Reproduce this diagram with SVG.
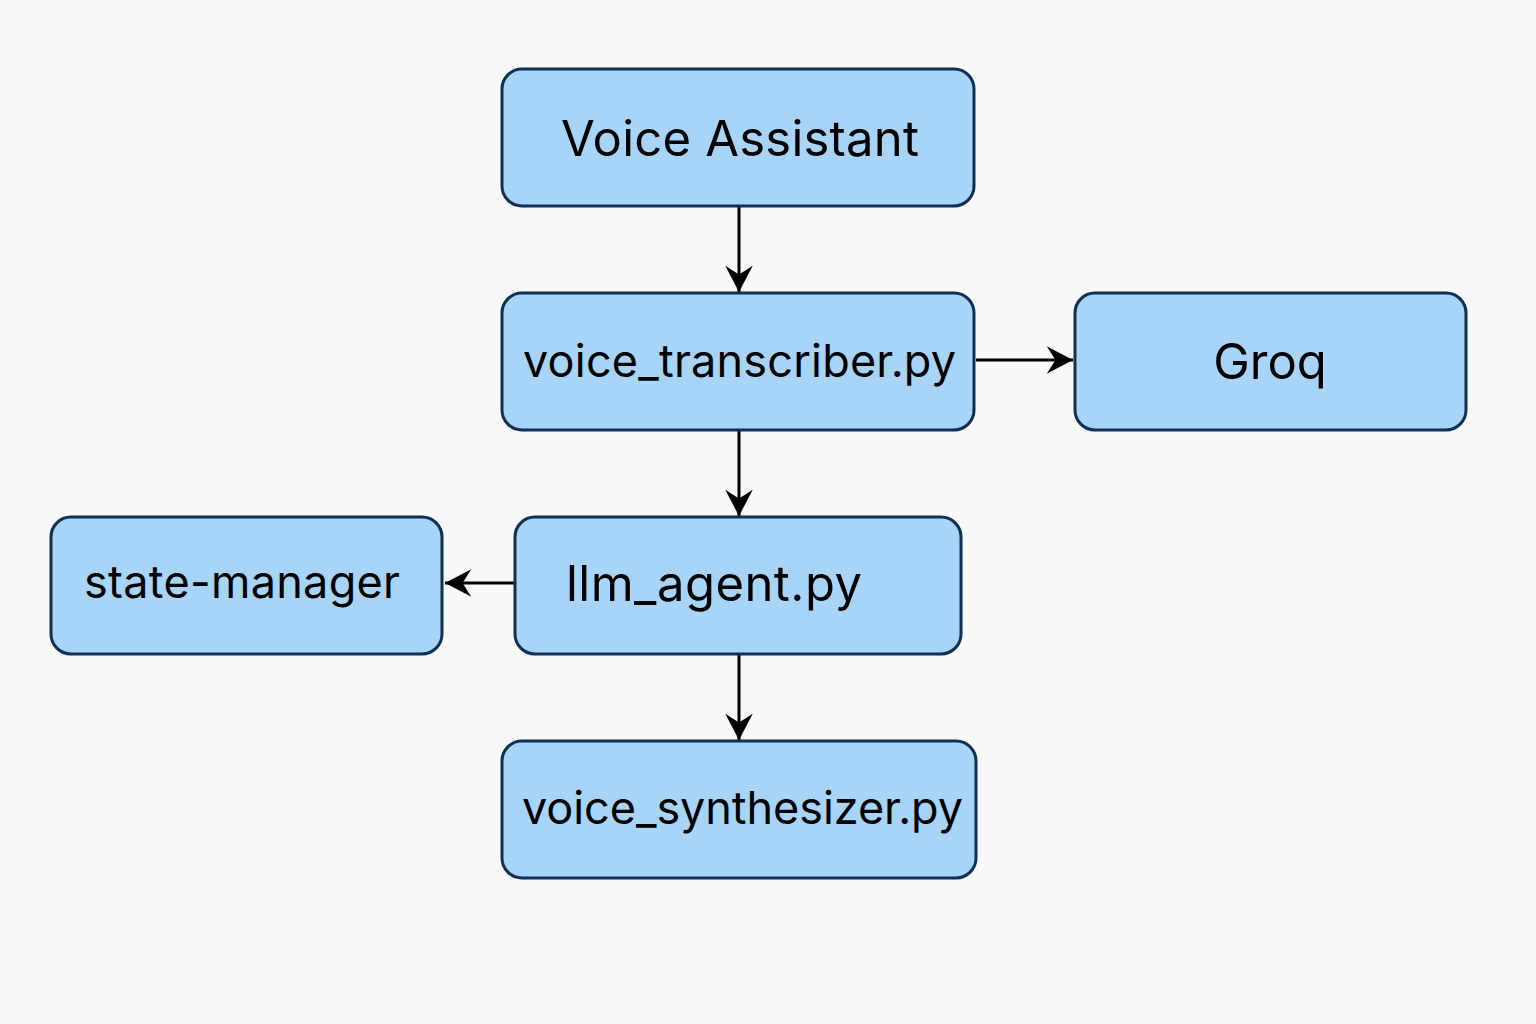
<svg xmlns="http://www.w3.org/2000/svg" width="1536" height="1024" viewBox="0 0 1536 1024">
<style>
.box{fill:#a8d4f8;stroke:#0f2f55;stroke-width:3}
.lbl{font-family:Inter,"Noto Sans","DejaVu Sans",sans-serif;fill:#000}
.con{stroke:#000;stroke-width:3;fill:none}
</style>
<defs>
<marker id="ah" markerUnits="userSpaceOnUse" markerWidth="30" markerHeight="30" viewBox="-22 -12 24 24" refX="0" refY="0" orient="auto">
<path d="M0,0 L-21,-11 L-14,0 L-21,11 Z" fill="#000"/>
</marker>
</defs>
<rect width="1536" height="1024" fill="#f8f8f8"/>
<g id="connectors">
<line class="con" x1="739" y1="207" x2="739" y2="292" marker-end="url(#ah)"/>
<line class="con" x1="976" y1="360" x2="1073" y2="360" marker-end="url(#ah)"/>
<line class="con" x1="739" y1="431" x2="739" y2="516" marker-end="url(#ah)"/>
<line class="con" x1="514" y1="583" x2="445" y2="583" marker-end="url(#ah)"/>
<line class="con" x1="739" y1="655" x2="739" y2="740" marker-end="url(#ah)"/>
</g>
<g id="voice-assistant">
<rect class="box" x="502" y="69" width="472" height="137" rx="20"/>
<text class="lbl" x="740" y="156" font-size="49" text-anchor="middle" textLength="358">Voice Assistant</text>
</g>
<g id="voice-transcriber">
<rect class="box" x="502" y="293" width="472" height="137" rx="20"/>
<text class="lbl" x="523" y="377" font-size="45" textLength="433">voice_transcriber.py</text>
</g>
<g id="groq">
<rect class="box" x="1075" y="293" width="391" height="137" rx="20"/>
<text class="lbl" x="1270" y="379" font-size="49" text-anchor="middle">Groq</text>
</g>
<g id="state-manager">
<rect class="box" x="51" y="517" width="391" height="137" rx="20"/>
<text class="lbl" x="84" y="598" font-size="45" textLength="316">state-manager</text>
</g>
<g id="llm-agent">
<rect class="box" x="515" y="517" width="446" height="137" rx="20"/>
<text class="lbl" x="566" y="601" font-size="49" textLength="296">llm_agent.py</text>
</g>
<g id="voice-synthesizer">
<rect class="box" x="502" y="741" width="474" height="137" rx="20"/>
<text class="lbl" x="522" y="824" font-size="45" textLength="441">voice_synthesizer.py</text>
</g>
</svg>
